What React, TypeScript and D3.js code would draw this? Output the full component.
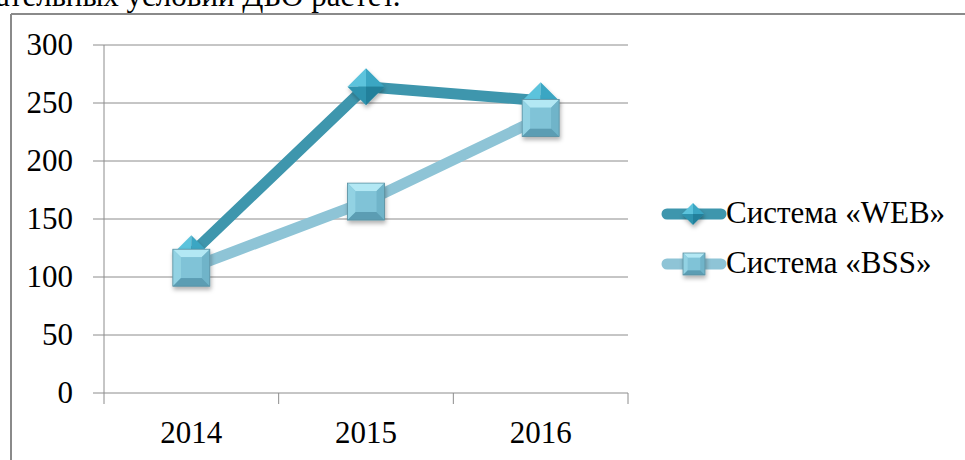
import React from "react";
import * as d3 from "d3";

const categories = ["2014", "2015", "2016"];
const webValues = [120, 264, 252];
const bssValues = [108, 165, 237];
const yTicks = [0, 50, 100, 150, 200, 250, 300];
const seriesNames = ["Система «WEB»", "Система «BSS»"];

const W = 965;
const H = 460;
const FONT = "'Liberation Serif', 'Times New Roman', serif";

const x0 = 104;
const x1 = 628;
const yTop = 45;
const yBot = 393;

const xBand = d3.scaleBand<string>().domain(categories).range([x0, x1]).paddingInner(0).paddingOuter(0);
const xPos = (c: string) => (xBand(c) as number) + xBand.bandwidth() / 2;
const y = d3.scaleLinear().domain([0, 300]).range([yBot, yTop]);

const WEB_LINE = "#3e96ad";
const BSS_LINE = "#8ec4d6";

function Square({ cx, cy, s }: { cx: number; cy: number; s: number }) {
  const h = s / 2;
  const i = s * 0.22;
  const L = cx - h, R = cx + h, T = cy - h, B = cy + h;
  const l = L + i, r = R - i, t = T + i, b = B - i;
  const pts = (a: number[][]) => a.map((p) => p.join(",")).join(" ");
  return (
    <g filter="url(#shadow)">
      <rect x={L} y={T} width={s} height={s} fill="#7cc1d5" />
      <polygon points={pts([[L, T], [R, T], [r, t], [l, t]])} fill="#b3e8f4" />
      <polygon points={pts([[L, T], [l, t], [l, b], [L, B]])} fill="#92d2e3" />
      <polygon points={pts([[R, T], [R, B], [r, b], [r, t]])} fill="#70b4c9" />
      <polygon points={pts([[L, B], [l, b], [r, b], [R, B]])} fill="#5b9db3" />
      <rect x={l} y={t} width={r - l} height={b - t} fill="#80c3d7" />
      <rect x={L} y={T} width={s} height={s} fill="none" stroke="#5a8fa0" strokeWidth={0.8} />
    </g>
  );
}

function Diamond({ cx, cy, s }: { cx: number; cy: number; s: number }) {
  const h = s / 2;
  const pts = (a: number[][]) => a.map((p) => p.join(",")).join(" ");
  const Tp = [cx, cy - h], Rp = [cx + h, cy], Bp = [cx, cy + h], Lp = [cx - h, cy];
  const C = [cx, cy];
  return (
    <g filter="url(#shadow)">
      <polygon points={pts([Lp, Tp, C])} fill="#5cc3dc" />
      <polygon points={pts([Tp, Rp, C])} fill="#3aa6c3" />
      <polygon points={pts([Rp, Bp, C])} fill="#23809b" />
      <polygon points={pts([Bp, Lp, C])} fill="#2e93ae" />
    </g>
  );
}

export default function App() {
  const lineGen = d3
    .line<number>()
    .x((_, i) => xPos(categories[i]))
    .y((d) => y(d));

  const xEdges = [x0, ...categories.map((c) => (xBand(c) as number) + xBand.bandwidth())];

  return (
    <svg
      width={W}
      height={H}
      style={{ position: "absolute", left: 0, top: 0, background: "#fff" }}
      fontFamily={FONT}
    >
      <defs>
        <filter id="shadow" x="-50%" y="-50%" width="200%" height="200%">
          <feDropShadow dx="1" dy="3" stdDeviation="2.2" floodColor="#000" floodOpacity="0.3" />
        </filter>
      </defs>
      <rect width={W} height={H} fill="#fff" />

      {/* cut-off paragraph text (cropped in the reference too) */}
      <text x={-4} y={6} fontSize={31} fill="#000">
        ательных условий ДБО растет.
      </text>

      {/* frame */}
      <line x1={11} y1={14} x2={W} y2={14} stroke="#8a8a8a" strokeWidth={2} />
      <line x1={11} y1={14} x2={11} y2={H} stroke="#8a8a8a" strokeWidth={2} />

      {/* gridlines */}
      {yTicks.map((t) => (
        <g key={t}>
          <line x1={93} x2={x1} y1={y(t)} y2={y(t)} stroke="#8c8c8c" strokeWidth={1} />
          <text x={73} y={y(t) + 10} fontSize={31} textAnchor="end" fill="#000">
            {t}
          </text>
        </g>
      ))}
      <line x1={x0} x2={x0} y1={yTop} y2={yBot} stroke="#8c8c8c" strokeWidth={1} />
      {xEdges.map((xe, i) => (
        <line key={i} x1={xe} x2={xe} y1={yBot} y2={yBot + 11} stroke="#8c8c8c" strokeWidth={1} />
      ))}
      {categories.map((c) => (
        <text key={c} x={xPos(c)} y={443} fontSize={31} textAnchor="middle" fill="#000">
          {c}
        </text>
      ))}

      {/* WEB series */}
      <path d={lineGen(webValues) || ""} fill="none" stroke={WEB_LINE} strokeWidth={11} strokeLinejoin="round" strokeLinecap="round" />
      {webValues.map((v, i) => (
        <Diamond key={i} cx={xPos(categories[i])} cy={y(v)} s={37} />
      ))}

      {/* BSS series */}
      <path d={lineGen(bssValues) || ""} fill="none" stroke={BSS_LINE} strokeWidth={11} strokeLinejoin="round" strokeLinecap="round" />
      {bssValues.map((v, i) => (
        <Square key={i} cx={xPos(categories[i])} cy={y(v)} s={37} />
      ))}

      {/* legend */}
      <line x1={667} x2={721} y1={214} y2={214} stroke={WEB_LINE} strokeWidth={11} strokeLinecap="round" />
      <Diamond cx={693} cy={214} s={22} />
      <text x={726} y={223} fontSize={31} fill="#000">{seriesNames[0]}</text>

      <line x1={667} x2={721} y1={264} y2={264} stroke={BSS_LINE} strokeWidth={11} strokeLinecap="round" />
      <Square cx={694} cy={264} s={22} />
      <text x={726} y={273} fontSize={31} fill="#000">{seriesNames[1]}</text>
    </svg>
  );
}
